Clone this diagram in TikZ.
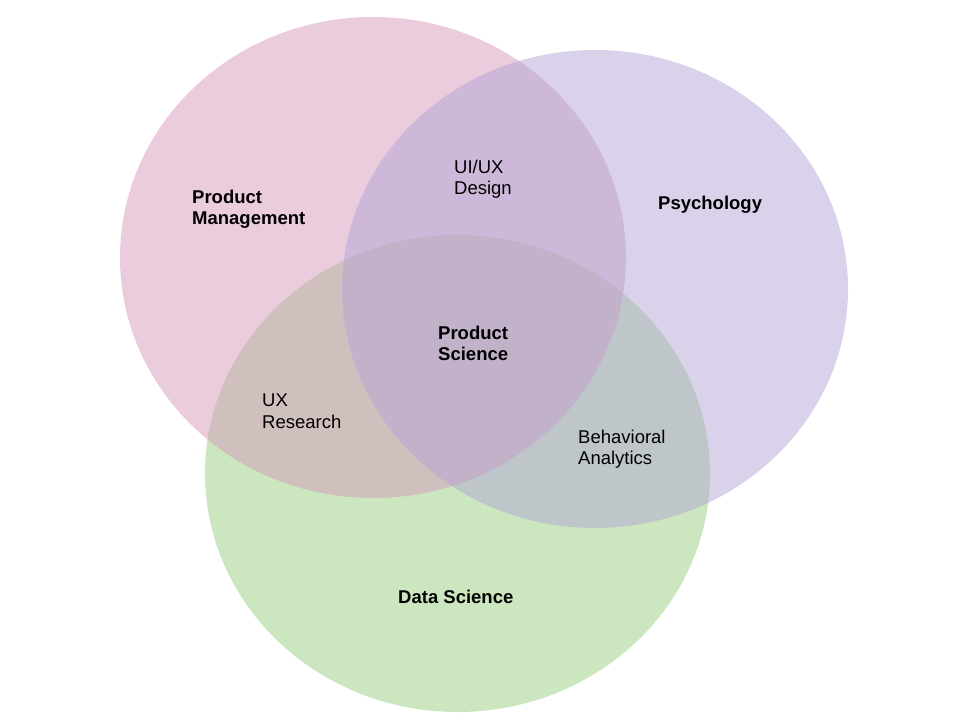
\documentclass[tikz,border=0pt]{standalone}
\usepackage{fontspec}
\setmainfont{Liberation Sans}
\usetikzlibrary{shapes.geometric}
\definecolor{pmcol}{RGB}{213,153,187}
\definecolor{psycol}{RGB}{179,165,213}
\definecolor{dscol}{RGB}{153,207,129}
\tikzset{
  setcircle/.style={ellipse, draw=none, inner sep=0, fill opacity=0.5},
  lbl/.style={anchor=north west, inner sep=0, align=left, font=\fontsize{18.5}{21.5}\selectfont, text=black},
  blbl/.style={lbl, font=\fontsize{18.5}{21.5}\selectfont\bfseries}
}
\begin{document}
\begin{tikzpicture}[x=1pt,y=-1pt]
\useasboundingbox (0,0) rectangle (960,720);
\node[setcircle, fill=dscol, minimum width=505pt, minimum height=477pt] (ds) at (457.5,473.5) {};
\node[setcircle, fill=pmcol, minimum width=506pt, minimum height=481pt] (pm) at (373,257.5) {};
\node[setcircle, fill=psycol, minimum width=506pt, minimum height=478pt] (psy) at (595,289) {};
\node[blbl] (tpm) at (192,189.7) {Product\\Management};
\node[lbl] (tux) at (454,159.7) {UI/UX\\Design};
\node[blbl] (tpsy) at (658,195.7) {Psychology};
\node[blbl] (tps) at (438,325.7) {Product\\Science};
\node[lbl] (tuxr) at (262,393.7) {UX\\Research};
\node[lbl] (tba) at (578,429.7) {Behavioral\\Analytics};
\node[blbl] (tds) at (398,589.7) {Data Science};
\end{tikzpicture}
\end{document}
